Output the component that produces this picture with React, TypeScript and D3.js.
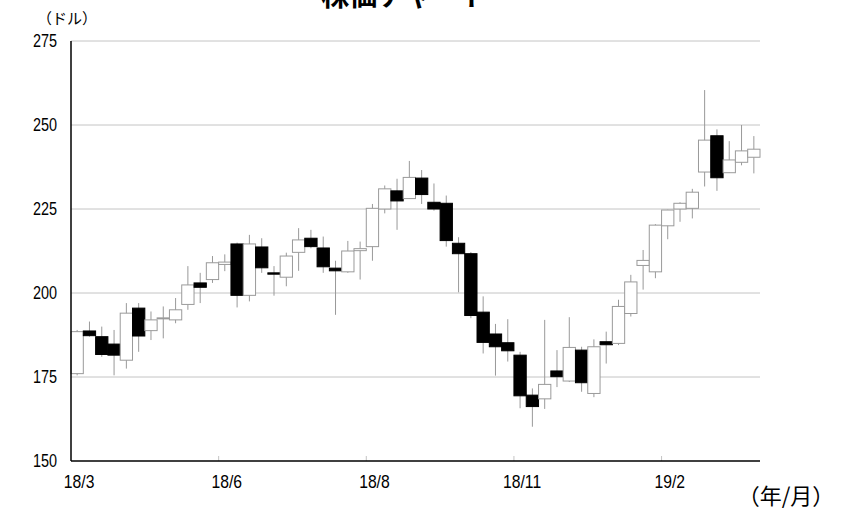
import React from 'react';
import * as d3 from 'd3';

// weekly candles, 18/3 .. 19/3
const opens = [176, 188.7, 187, 184.8, 180, 195.5, 188.8, 192.4, 192, 196.6, 203, 204, 208.5, 214.6, 199.3, 213.7, 206, 204.7, 212.1, 216.3, 213.4, 207.4, 206.3, 212.6, 213.8, 225, 230.4, 228.1, 234.2, 227, 226.7, 214.8, 211.7, 194.3, 187.8, 185.2, 181.5, 169.6, 168.5, 176.8, 173.8, 183, 170.1, 185.5, 185, 193.9, 208.2, 206.3, 220, 225, 225.2, 236, 246.8, 235.8, 238.9, 240.4];
const highs = [189, 191.5, 190, 189, 197, 197, 194.5, 196, 198.5, 208, 206, 211, 211.5, 215, 217.3, 216.3, 208, 212, 219.3, 218.8, 216.8, 209.6, 215.5, 215.3, 226.5, 232, 234, 239.3, 236.6, 232.6, 229, 216.6, 212.2, 199, 190.8, 192.2, 182.5, 171.6, 192, 183, 192.8, 184, 186.2, 188.5, 198, 205.4, 212.8, 220.5, 224.8, 227, 231, 260.4, 248.7, 245.2, 250, 246.7];
const lows = [175.5, 187, 181, 175.5, 177.5, 182.5, 186, 186.5, 191, 195, 197, 203, 206.5, 195.7, 197.5, 206, 199.2, 202, 206.6, 213.3, 206, 193.5, 206, 204, 209.6, 223.7, 218.8, 228, 226.5, 224.5, 213.8, 200.2, 192.5, 182, 175.4, 179.6, 165.7, 160.2, 165.5, 172, 173.5, 170.6, 169, 179, 184.5, 193, 201, 204.4, 216, 221.2, 222.2, 231.7, 230.4, 235.8, 238, 235.6];
const closes = [188.5, 187.3, 181.7, 181.5, 194, 187.2, 192, 192.6, 195, 202.4, 201.7, 209, 209.2, 199.3, 214.6, 207.5, 205.6, 211, 215.8, 213.8, 207.8, 206.6, 212.5, 213.2, 225.2, 231, 227.4, 234.4, 229.3, 225, 215.6, 211.7, 193.3, 185.3, 184, 182.8, 169.4, 166.2, 172.8, 175.1, 183.8, 173.3, 184, 184.6, 196, 203.3, 209.7, 220.2, 224.7, 226.7, 230, 245.5, 234.3, 239.6, 242.3, 242.8];

const tickLabels = ['18/3', '18/6', '18/8', '18/11', '19/2'];
const tickEvery = 12;
const yTicks = [150, 175, 200, 225, 250, 275];

const numFont = '"Liberation Sans", Arial, sans-serif';
const jpFont = '"Noto Sans CJK JP", sans-serif';

export default function App() {
  const left = 71, right = 760, top = 41, bottom = 461;
  const idx = opens.map((_, i) => i);

  const x = d3.scaleBand<number>().domain(idx).range([left, right]).padding(0);
  const y = d3.scaleLinear().domain([150, 275]).range([bottom, top]);
  const bw = x.bandwidth();

  return (
    <svg width={843} height={512} style={{ position: 'absolute', left: 0, top: 0, background: '#fff' }}>
      <text x={405} y={6} textAnchor="middle" fontFamily={jpFont} fontWeight="bold" fontSize={28}>株価チャート</text>
      <text x={67} y={24} textAnchor="middle" fontFamily={jpFont} fontSize={15}>（ドル）</text>
      <text x={786} y={504} textAnchor="middle" fontFamily={jpFont} fontSize={22}>（年/月）</text>

      {yTicks.map(t => (
        <g key={t}>
          {t > 150 && <line x1={left} x2={right} y1={y(t)} y2={y(t)} stroke="#c4c4c4" strokeWidth={1} />}
          <text transform={`translate(57,${y(t) + 6}) scale(0.78,1)`} textAnchor="end"
                fontFamily={numFont} fontSize={18.5}>{t}</text>
        </g>
      ))}

      {tickLabels.map((lab, k) => {
        const i = k * tickEvery;
        const xb = x(i) as number;
        return (
          <g key={lab}>
            {k > 0 && <line x1={xb} x2={xb} y1={bottom} y2={bottom - 5} stroke="#c4c4c4" />}
            <text transform={`translate(${xb + bw / 2 + 2},${bottom + 27}) scale(0.85,1)`} textAnchor="middle"
                  fontFamily={numFont} fontSize={18.5}>{lab}</text>
          </g>
        );
      })}

      {idx.map(i => {
        const cx = (x(i) as number) + bw / 2;
        const up = closes[i] >= opens[i];
        const yt = y(Math.max(opens[i], closes[i]));
        const yb = y(Math.min(opens[i], closes[i]));
        return (
          <g key={i}>
            <line x1={cx} x2={cx} y1={y(highs[i])} y2={y(lows[i])} stroke="#999" strokeWidth={1} />
            <rect x={x(i) as number} y={yt} width={bw} height={Math.max(yb - yt, 1)}
                  fill={up ? '#fff' : '#000'} stroke={up ? '#9a9a9a' : '#000'} strokeWidth={1} />
          </g>
        );
      })}

      <line x1={left} x2={left} y1={top} y2={bottom} stroke="#000" strokeWidth={1.5} />
      <line x1={left} x2={right} y1={bottom} y2={bottom} stroke="#000" strokeWidth={1.5} />
    </svg>
  );
}
